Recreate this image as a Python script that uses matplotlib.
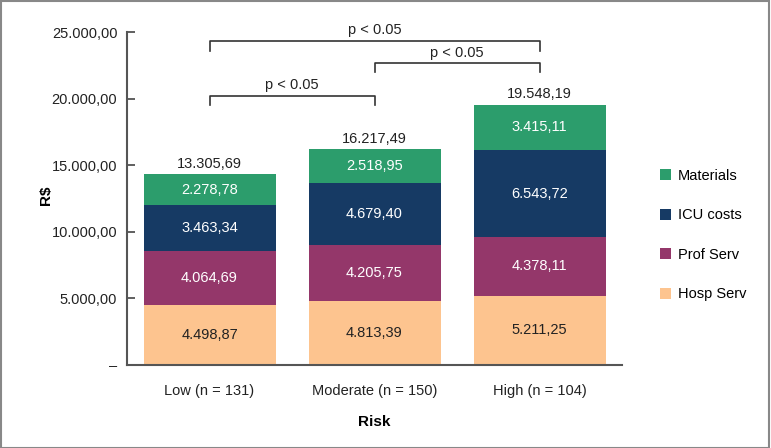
import matplotlib
matplotlib.use("Agg")
import matplotlib.pyplot as plt
from matplotlib.patches import Rectangle
from matplotlib import font_manager

categories = ["Low (n = 131)", "Moderate (n = 150)", "High (n = 104)"]
hosp_serv = [4498.87, 4813.39, 5211.25]
prof_serv = [4064.69, 4205.75, 4378.11]
icu_costs = [3463.34, 4679.40, 6543.72]
materials = [2278.78, 2518.95, 3415.11]
totals_text = ["13.305,69", "16.217,49", "19.548,19"]
series_names = ["Hosp Serv", "Prof Serv", "ICU costs", "Materials"]
yticks = [0, 5000, 10000, 15000, 20000, 25000]
ytick_labels = ["–", "5.000,00", "10.000,00", "15.000,00", "20.000,00", "25.000,00"]
comparisons = [(0, 2, "p < 0.05"), (1, 2, "p < 0.05"), (0, 1, "p < 0.05")]

names = {f.name for f in font_manager.fontManager.ttflist}
fam = ["Liberation Sans Narrow", "Liberation Sans", "DejaVu Sans"]
fam = [f for f in fam if f in names] or ["DejaVu Sans"]
plt.rcParams["font.family"] = fam

colors = ["#fdc48f", "#94376a", "#163a64", "#2c9d6c"]
text_colors = ["#222222", "white", "white", "white"]


def fmt(v):
    s = f"{v:,.2f}"
    return s.replace(",", "X").replace(".", ",").replace("X", ".")


fig = plt.figure(figsize=(7.71, 4.48), dpi=100)
ax = fig.add_axes([127 / 771, 1 - 365 / 448, (622 - 127) / 771, (365 - 32) / 448])

x = list(range(len(categories)))
series = [hosp_serv, prof_serv, icu_costs, materials]
bottom = [0.0] * len(categories)
handles = []
for vals, name, c, tc in zip(series, series_names, colors, text_colors):
    bars = ax.bar(x, vals, width=0.8, bottom=bottom, color=c, label=name, linewidth=0)
    handles.append(bars)
    for xi, v, b in zip(x, vals, bottom):
        ax.text(xi, b + v / 2, fmt(v), ha="center", va="center", color=tc, fontsize=10.5)
    bottom = [b + v for b, v in zip(bottom, vals)]

for xi, top, t in zip(x, bottom, totals_text):
    ax.text(xi, top + 780, t, ha="center", va="center", color="#222222", fontsize=10.5)

# significance brackets
levels = [(24330, 23560, 25180), (22680, 21990, 23450), (20200, 19500, 21050)]
for (a, b, label), (yb, ylow, yt) in zip(comparisons, levels):
    ax.plot([a, a, b, b], [ylow, yb, yb, ylow], color="#333333", lw=1.2, clip_on=False)
    ax.text((a + b) / 2, yt, label, ha="center", va="center", fontsize=10.5, color="#222222", clip_on=False)

ax.set_xlim(-0.5, 2.5)
ax.set_ylim(0, 25000)
ax.set_yticks(yticks)
ax.set_yticklabels(ytick_labels, fontsize=10.5, color="#222222")
ax.set_xticks(x)
ax.set_xticklabels(categories, fontsize=10.5, color="#222222")
ax.tick_params(axis="x", length=0, pad=14)
ax.tick_params(axis="y", direction="in", length=6, width=1.2, color="#444444", pad=7)
for s in ["top", "right"]:
    ax.spines[s].set_visible(False)
for s in ["left", "bottom"]:
    ax.spines[s].set_linewidth(1.5)
    ax.spines[s].set_color("#555555")

ax.set_ylabel("R$", fontsize=11, fontweight="bold")
ax.yaxis.set_label_coords(-0.15, 0.51)
ax.set_xlabel("Risk", fontsize=11, fontweight="bold", labelpad=12)

leg = ax.legend(handles=handles[::-1], labels=series_names[::-1], loc="center left",
                bbox_to_anchor=(1.05, 0.39), frameon=False, fontsize=10.5,
                handlelength=0.75, handleheight=0.75, labelspacing=1.75, handletextpad=0.5)

fig.add_artist(Rectangle((0.001, 0.001), 0.997, 0.996, transform=fig.transFigure,
                         fill=False, edgecolor="#888888", lw=1.5))

fig.savefig("out.png", dpi=100)
